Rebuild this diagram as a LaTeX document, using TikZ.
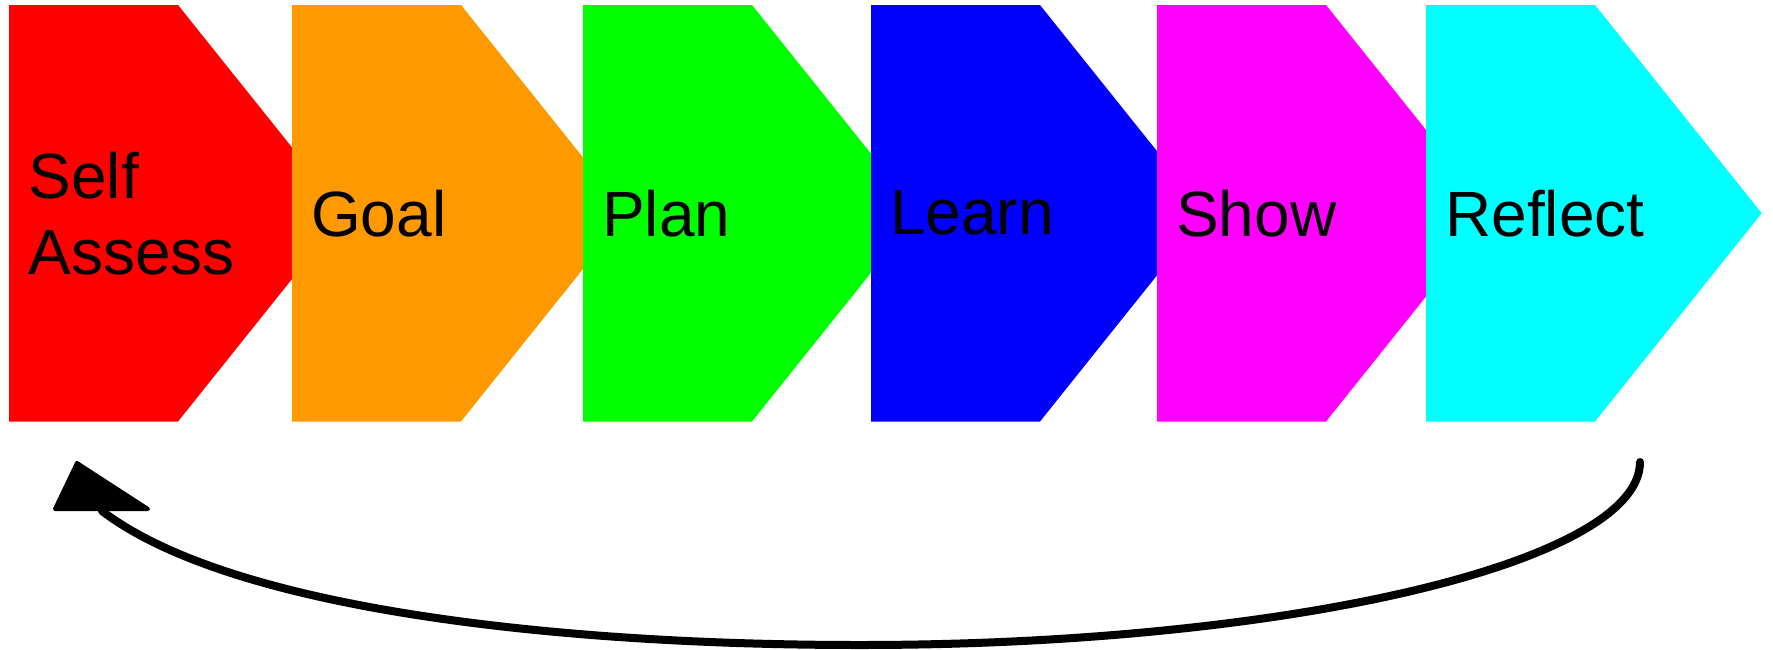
\documentclass[tikz,border=0pt]{standalone}
\usepackage{fontspec}
\setmainfont{Liberation Sans}
\definecolor{cRed}{HTML}{FF0000}
\definecolor{cOrange}{HTML}{FF9900}
\definecolor{cGreen}{HTML}{00FF00}
\definecolor{cBlue}{HTML}{0000FF}
\definecolor{cMagenta}{HTML}{FF00FF}
\definecolor{cCyan}{HTML}{00FFFF}
\tikzset{
  lbl/.style={anchor=west, inner sep=0pt, font=\fontsize{64}{76}\selectfont, align=left, text=black},
  loopline/.style={line width=8pt, line cap=round},
  headtri/.style={fill=black, draw=black, line width=4pt, line join=round}
}
\newcommand\chevshape[2]{%
  \fill[#2] (#1,5) -- ({#1+169},5) -- ({#1+335.7},213.2) -- ({#1+169},421.5) -- (#1,421.5) -- cycle;}
\begin{document}
\begin{tikzpicture}[x=1pt,y=-1pt]
\useasboundingbox (0,0) rectangle (1773,649);
\chevshape{9}{cRed}
\chevshape{292}{cOrange}
\chevshape{583}{cGreen}
\chevshape{871}{cBlue}
\chevshape{1157}{cMagenta}
\chevshape{1426}{cCyan}
\node[lbl] (self) at (28.5,213.2) {Self\\Assess};
\node[lbl] (goal) at (311,213.2) {Goal};
\node[lbl] (plan) at (602,213.2) {Plan};
\node[lbl] (learn) at (890,213.2) {Learn};
\node[lbl] (show) at (1176,213.2) {Show};
\node[lbl] (reflect) at (1445,213.2) {Reflect};
\coordinate (cs) at (1640,462);
\coordinate (cb) at (860,645);
\coordinate (ce) at (102,511);
\draw[loopline] (cs) .. controls (1640,562) and (1291,645) .. (cb)
  .. controls (560,645) and (232,610) .. (ce);
\filldraw[headtri] (77,463) -- (55,509) -- (148,509) -- cycle;
\end{tikzpicture}
\end{document}
